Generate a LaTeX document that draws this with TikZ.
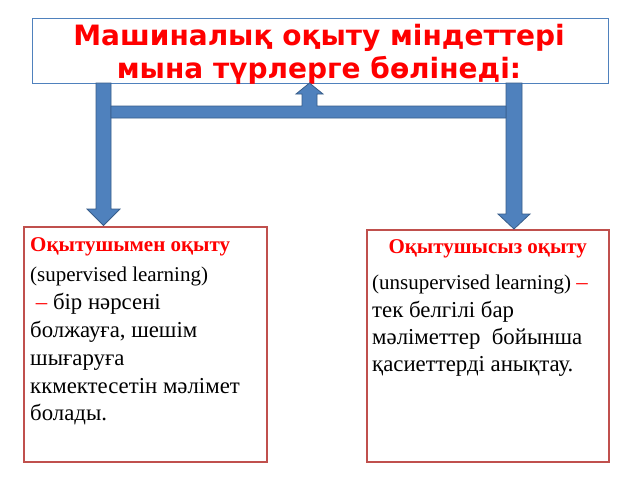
\documentclass[tikz,border=0pt]{standalone}
\usepackage{fontspec}
\setmainfont{Liberation Serif}
\newfontfamily\titlefont{DejaVu Sans}
\usetikzlibrary{calc}
\definecolor{arrowfill}{HTML}{4F81BD}
\definecolor{arrowedge}{HTML}{385D8A}
\definecolor{boxred}{HTML}{C0504D}
\definecolor{textred}{HTML}{FF0000}
\newcommand{\cyrsize}{\fontsize{22.8}{28}\selectfont}
\tikzset{
  blockarrow/.style={fill=arrowfill, draw=arrowedge, line width=0.8pt, line join=miter},
  titlebox/.style={draw=arrowfill, line width=1.2pt, fill=white, inner sep=0pt},
  redbox/.style={draw=boxred, line width=1.5pt, fill=white, inner sep=0pt},
  titleline/.style={anchor=base, inner sep=0pt, text=textred, font=\titlefont\bfseries\fontsize{28}{32}\selectfont},
  headline/.style={anchor=base, inner sep=0pt, text=textred, font=\bfseries\fontsize{21}{24}\selectfont},
  bodyline/.style={anchor=base west, inner sep=0pt, font=\cyrsize},
  latinline/.style={anchor=base west, inner sep=0pt, font=\fontsize{21}{28}\selectfont},
}
\begin{document}
\begin{tikzpicture}[x=1pt,y=-1pt]
\useasboundingbox (0,0) rectangle (640,480);
\fill[white] (0,0) rectangle (640,480);
% boxes
\node[titlebox, minimum width=576pt, minimum height=65pt, anchor=north west] (title) at (32,18) {};
\node[redbox, minimum width=243pt, minimum height=235pt, anchor=north west] (sup) at (23,226) {};
\node[redbox, minimum width=242pt, minimum height=232pt, anchor=north west] (unsup) at (366,229) {};
% title text
\node[titleline] (t1) at (319,45.7) {Машиналық оқыту міндеттері};
\node[titleline] (t2) at (319,78.3) {мына түрлерге бөлінеді:};
% block arrows
\draw[blockarrow] (96,83) -- (111,83) -- (111,209) -- (120,209) -- (103.5,225.5) -- (87,209) -- (96,209) -- cycle;
\draw[blockarrow] (506,83) -- (522,83) -- (522,214) -- (530,214) -- (514,229) -- (498,214) -- (506,214) -- cycle;
\draw[blockarrow] (111,106) -- (302,106) -- (302,94) -- (296,94) -- (309.5,83) -- (323,94) -- (317,94) -- (317,106) -- (506,106) -- (506,118) -- (111,118) -- cycle;
% left box text
\node[headline, anchor=base west] (h1) at (30,251.7) {Оқытушымен оқыту};
\node[latinline] (l1) at (30,281.7) {(supervised learning)};
\node[bodyline] (l2) at (30,309.3) {\ \textcolor{textred}{–} бір нәрсені};
\node[bodyline] (l3) at (30,337) {болжауға, шешім};
\node[bodyline] (l4) at (30,365) {шығаруға};
\node[bodyline] (l5) at (30,393) {ккмектесетін мәлімет};
\node[bodyline] (l6) at (30,420) {болады.};
% right box text
\node[headline] (h2) at (unsup.north |- 0,253.3) {Оқытушысыз оқыту};
\node[latinline] (r1) at (372,289) {(unsupervised learning) {\cyrsize\textcolor{textred}{–}}};
\node[bodyline] (r2) at (372,317) {тек белгілі бар};
\node[bodyline] (r3) at (372,344) {мәліметтер\ \ бойынша};
\node[bodyline] (r4) at (372,371.7) {қасиеттерді анықтау.};
\end{tikzpicture}
\end{document}
